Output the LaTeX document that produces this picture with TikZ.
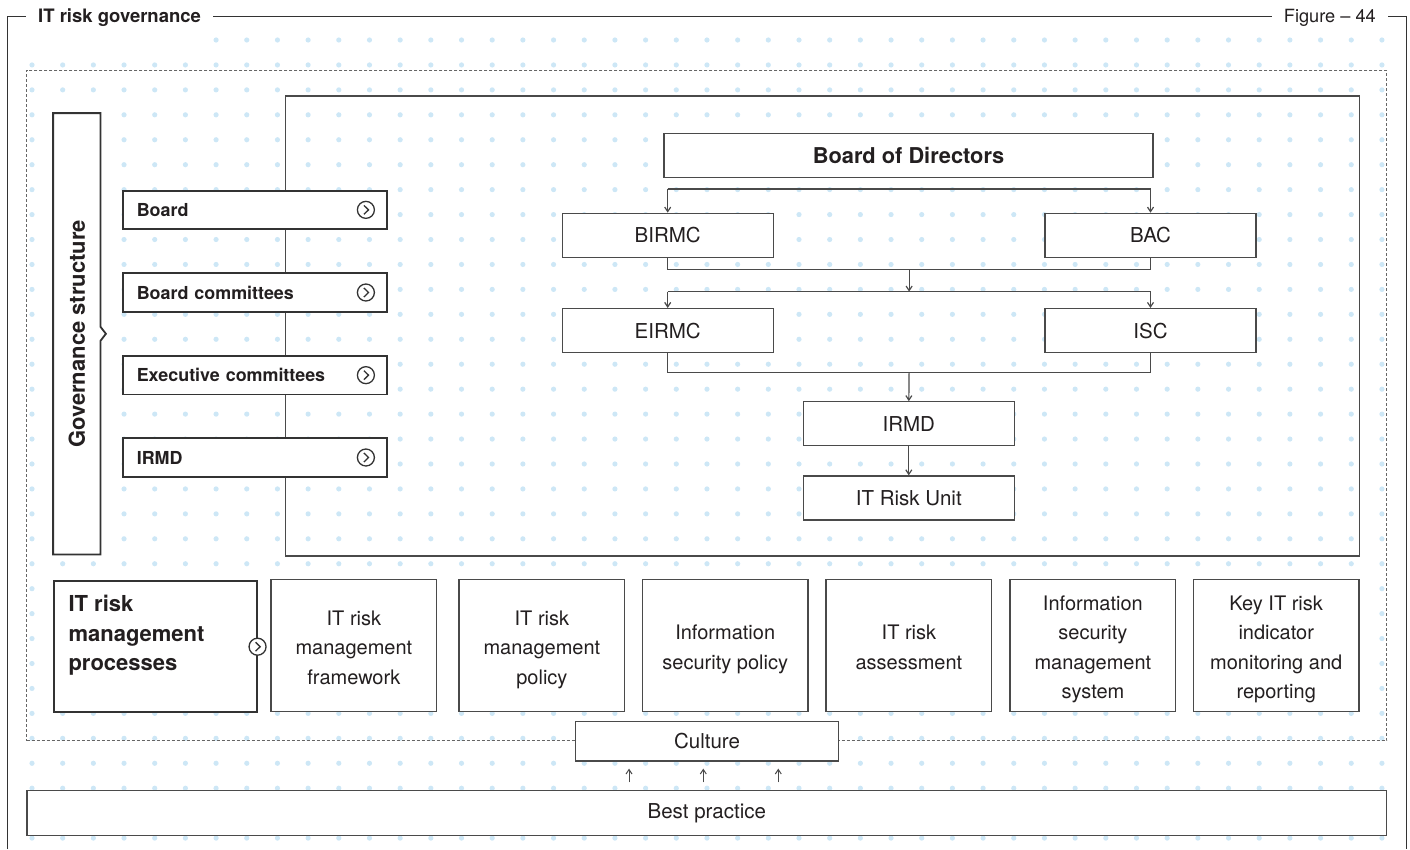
\documentclass[tikz,border=0pt]{standalone}
\usepackage{fontspec}
\setmainfont{TeX Gyre Heros}
\usepackage{graphicx}
\usetikzlibrary{arrows.meta,calc}

\definecolor{ink}{HTML}{231F20}
\definecolor{edge}{HTML}{333333}
\definecolor{softedge}{HTML}{4A4A4A}
\definecolor{dotblue}{HTML}{CDE7F6}
\definecolor{zoneline}{HTML}{666666}

\newcommand{\fsz}[2]{\fontsize{#1}{#2}\selectfont}
% fixed height for the first line of process labels
\newcommand{\firstline}{\rule{0pt}{18.5pt}}

\tikzset{
  gocircle/.pic={
    \draw[edge, line width=1.3pt, fill=white] (0,0) circle (8.5);
    \draw[edge, line width=1.3pt, line join=miter] (-2,-4.5) -- (2.6,0) -- (-2,4.5);
  }
}

\begin{document}
\begin{tikzpicture}[x=1pt, y=-1pt,
  every node/.style={text=ink},
  lbox/.style={draw=edge, line width=1.8pt, fill=white, minimum width=264pt,
    minimum height=38.5pt, text width=237pt, align=left, inner xsep=13.5pt,
    font=\fsz{17.9}{21}\bfseries},
  orgbox/.style={draw=softedge, line width=1.3pt, fill=white, minimum width=211pt,
    minimum height=44pt, font=\fsz{20.5}{24}},
  procbox/.style={draw=softedge, line width=1.3pt, fill=white, minimum width=165.7pt,
    minimum height=132.2pt, align=center, text depth=0pt, font=\fsz{20}{29.5}},
  conn/.style={draw=softedge, line width=1.2pt},
  arr/.style={conn, -{Straight Barb[length=4.5pt,width=6pt]}},
  titlelbl/.style={fill=white, inner xsep=12pt, inner ysep=4pt}
]
\useasboundingbox (0,0) rectangle (1410,849);

% dotted background grid
\foreach \i in {0,...,44}{
  \foreach \j in {0,...,32}{
    \pgfmathtruncatemacro{\skipdot}{(\j==0 && \i<6) ? 1 : 0}
    \ifnum\skipdot=0
      \fill[dotblue] ({32+30.68*\i},{40+24.94*\j}) circle (2.6);
    \fi
  }
}

% outer frame with its two labels
\draw[edge, line width=1.3pt] (7.5,849) -- (7.5,16.5) -- (1406.5,16.5) -- (1406.5,849);
\node[titlelbl, anchor=base west, font=\fsz{18.5}{22}\bfseries] (title) at (26,22.7) {IT risk governance};
\node[titlelbl, anchor=base east, font=\fsz{18.2}{22}] (fig) at (1388,22.7) {Figure – 44};

% dashed zone
\node[draw=zoneline, line width=1pt, dash pattern=on 3pt off 2pt, minimum width=1360pt,
  minimum height=670.7pt, inner sep=0] (zone) at (706.7,405.35) {};

% organisation frame
\node[draw=softedge, line width=1.3pt, minimum width=1074pt, minimum height=460pt,
  inner sep=0] (orgframe) at (822.3,326) {};

% governance structure side panel
\node[fill=white, minimum width=47pt, minimum height=441pt, inner sep=0] (gov) at (76.8,333.8)
  {\rotatebox{90}{\fsz{22}{26}\bfseries Governance structure}};
\draw[edge, line width=1.8pt, line join=miter] (gov.north west) -- (gov.north east)
  -- ([yshift=7pt]gov.east) -- ([xshift=5.4pt]gov.east) -- ([yshift=-7pt]gov.east)
  -- (gov.south east) -- (gov.south west) -- cycle;

% governance levels
\node[lbox] (lboard) at (255.3,209.85) {Board};
\node[lbox] (lbc) at (255.3,292.5) {Board committees};
\node[lbox] (lec) at (255.3,375.15) {Executive committees};
\node[lbox] (lirmd) at (255.3,457.5) {IRMD};
\foreach \n in {lboard,lbc,lec,lirmd}{
  \pic at ([xshift=-22.3pt]\n.east) {gocircle};
}

% organisation chart
\node[orgbox, minimum width=489pt, font=\fsz{21.8}{25}\bfseries] (bod) at (908.5,155.3) {Board of Directors};
\node[orgbox] (birmc) at (667.7,235.3) {BIRMC};
\node[orgbox] (bac) at (1150.5,235.3) {BAC};
\node[orgbox] (eirmc) at (667.7,330.6) {EIRMC};
\node[orgbox] (isc) at (1150.5,330.6) {ISC};
\node[orgbox] (irmd) at (908.8,423.8) {IRMD};
\node[orgbox] (itru) at (908.8,498) {IT Risk Unit};

\coordinate (b1) at ($(bod.south)+(0,11)$);
\draw[conn] (b1 -| birmc) -- (b1 -| bac);
\draw[arr] (b1 -| birmc) -- (birmc.north);
\draw[arr] (b1 -| bac) -- (bac.north);

\draw[conn] (birmc.south) -- ++(0,11.4) -| (bac.south);
\coordinate (m2) at ($(birmc.south)!0.5!(bac.south)$);
\coordinate (m3) at ($(eirmc.north)!0.5!(isc.north)$);
\draw[arr] ([yshift=-11.4pt]m2) -- ([yshift=16.3pt]m3);

\draw[conn] ([yshift=16.3pt]eirmc.north) -- ([yshift=16.3pt]isc.north);
\draw[arr] ([yshift=16.3pt]eirmc.north) -- (eirmc.north);
\draw[arr] ([yshift=16.3pt]isc.north) -- (isc.north);

\draw[conn] (eirmc.south) -- ++(0,19.2) -| (isc.south);
\coordinate (m4) at ($(eirmc.south)!0.5!(isc.south)$);
\draw[arr] ([yshift=-19.2pt]m4) -- (irmd.north);
\draw[arr] (irmd.south) -- (itru.north);

% risk management processes
\node[draw=edge, line width=1.8pt, fill=white, minimum width=202.7pt, minimum height=131.3pt,
  inner sep=0] (proc) at (155.3,646.7) {};
\node[anchor=north west, align=left, inner sep=0, font=\fsz{22}{29.5}\bfseries] (proctext)
  at ($(proc.north west)+(15.3,15)$) {IT risk\\management\\processes};
\pic at (proc.east) {gocircle};

\node[procbox] (p1) at (353.9,645.4) {\firstline IT risk\\management\\framework};
\node[procbox] (p2) at (541.9,645.4) {\firstline IT risk\\management\\policy};
\node[procbox] (p3) at (725.2,645.4) {\firstline Information\\security policy};
\node[procbox] (p4) at (908.9,645.4) {\firstline IT risk\\assessment};
\node[procbox] (p5) at (1092.9,645.4) {\firstline Information\\security\\management\\system};
\node[procbox] (p6) at (1276.2,645.4) {\firstline Key IT risk\\indicator\\monitoring and\\reporting};

% foundations
\node[draw=softedge, line width=1.3pt, fill=white, minimum width=262.6pt, minimum height=39.3pt,
  font=\fsz{20.5}{24}] (culture) at (707,741.3) {Culture};
\node[draw=softedge, line width=1.3pt, fill=white, minimum width=1359.5pt, minimum height=45pt,
  font=\fsz{20.5}{24}] (best) at (706.8,813.2) {Best practice};

\foreach \dx in {-78,-3.7,71.3}{
  \draw[arr, line width=1pt] ($(culture.south)+(\dx,20.7)$) -- ($(culture.south)+(\dx,7)$);
}
\end{tikzpicture}
\end{document}
